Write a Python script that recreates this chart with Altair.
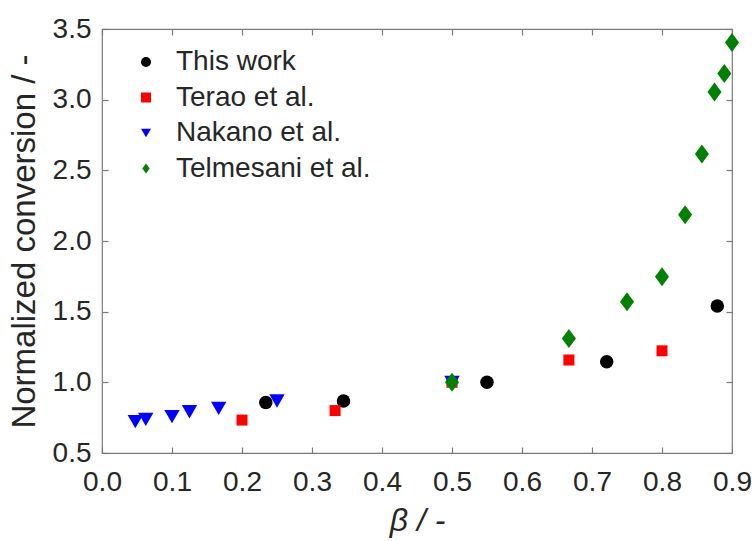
import altair as alt
import pandas as pd

series_names = ["This work", "Terao et al.", "Nakano et al.", "Telmesani et al."]

this_x = [0.234, 0.345, 0.55, 0.721, 0.879]
this_y = [0.858, 0.868, 1.0, 1.146, 1.54]

terao_x = [0.2, 0.333, 0.5, 0.667, 0.8]
terao_y = [0.733, 0.80, 1.0, 1.158, 1.223]

nakano_x = [0.0476, 0.0625, 0.1, 0.125, 0.1667, 0.25, 0.5]
nakano_y = [0.722, 0.738, 0.757, 0.792, 0.816, 0.868, 1.0]

telm_x = [0.5, 0.667, 0.75, 0.8, 0.833, 0.857, 0.875, 0.889, 0.9]
telm_y = [1.0, 1.311, 1.57, 1.747, 2.185, 2.615, 3.055, 3.185, 3.405]

x_ticks = [0.0, 0.1, 0.2, 0.3, 0.4, 0.5, 0.6, 0.7, 0.8, 0.9]
y_ticks = [0.5, 1.0, 1.5, 2.0, 2.5, 3.0, 3.5]

rows = []
for name, xs, ys in [
    (series_names[0], this_x, this_y),
    (series_names[1], terao_x, terao_y),
    (series_names[2], nakano_x, nakano_y),
    (series_names[3], telm_x, telm_y),
]:
    for xv, yv in zip(xs, ys):
        rows.append({"series": name, "beta": xv, "conv": yv})
df = pd.DataFrame(rows)

diamond = "M0,-1L0.74,0L0,1L-0.74,0Z"
shapes = ["circle", "square", "triangle-down", diamond]
colors = ["#000000", "#ff0000", "#0000ff", "#008000"]
sizes = [182, 121, 237, 361]

FONT = "Liberation Sans"
TXT = "#262626"
GRAY = "#7a7a7a"

xscale = alt.Scale(domain=[0, 0.9], nice=False, zero=False)
yscale = alt.Scale(domain=[0.5, 3.5], nice=False, zero=False)

legend = alt.Legend(
    title=None,
    orient="none",
    legendX=30,
    legendY=19,
    padding=0,
    symbolSize=100,
    symbolStrokeWidth=0,
    labelFontSize=28,
    labelFont=FONT,
    labelColor=TXT,
    labelOffset=16,
    rowPadding=7.5,
    labelLimit=400,
)

x_axis_main = alt.Axis(
    title="β / -",
    values=x_ticks,
    format=".1f",
    orient="bottom",
    offset=-6,
    tickSize=6,
    domain=False,
    grid=False,
    labelFlush=False,
    labelPadding=15,
    titlePadding=9,
    titleFontStyle="italic",
    titleFontWeight="normal",
    titleFontSize=32,
    labelFontSize=28,
)
y_axis_main = alt.Axis(
    title="Normalized conversion / -",
    values=y_ticks,
    format=".1f",
    orient="left",
    offset=-6,
    tickSize=6,
    domain=False,
    grid=False,
    labelFlush=False,
    labelPadding=11,
    titlePadding=11,
    titleFontWeight="normal",
    titleFontSize=33,
    labelFontSize=28,
)

layers = []
for i, name in enumerate(series_names):
    layer = (
        alt.Chart(df)
        .transform_filter(alt.datum.series == name)
        .mark_point(filled=True, opacity=1, strokeWidth=0, size=sizes[i])
        .encode(
            x=alt.X("beta:Q", scale=xscale, axis=x_axis_main if i == 0 else None),
            y=alt.Y("conv:Q", scale=yscale, axis=y_axis_main if i == 0 else None),
            color=alt.Color("series:N", scale=alt.Scale(domain=series_names, range=colors), legend=legend),
            shape=alt.Shape("series:N", scale=alt.Scale(domain=series_names, range=shapes), legend=legend),
        )
    )
    layers.append(layer)

mirror = alt.Chart(df).mark_point(opacity=0).encode(
    x=alt.X(
        "beta:Q",
        scale=xscale,
        axis=alt.Axis(orient="top", values=x_ticks, labels=False, title=None,
                      offset=-6, tickSize=6, domain=False, grid=False),
    ),
    y=alt.Y(
        "conv:Q",
        scale=yscale,
        axis=alt.Axis(orient="right", values=y_ticks, labels=False, title=None,
                      offset=-6, tickSize=6, domain=False, grid=False),
    ),
)

chart = (
    alt.layer(*layers, mirror)
    .resolve_axis(x="independent", y="independent")
    .properties(
        width=630,
        height=424,
        autosize=alt.AutoSizeParams(type="none"),
        padding={"left": 102, "top": 29, "right": 24, "bottom": 88},
        background="white",
    )
    .configure_view(stroke=GRAY, strokeWidth=1.2)
    .configure_axis(
        labelFont=FONT,
        titleFont=FONT,
        labelColor=TXT,
        titleColor=TXT,
        tickColor=GRAY,
        tickWidth=1.2,
    )
)

chart.save("out.html", embed_options={"renderer": "svg", "actions": False})
